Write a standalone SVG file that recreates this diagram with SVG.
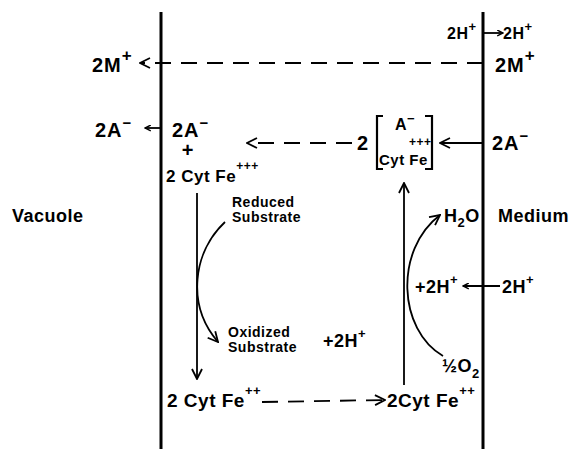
<svg xmlns="http://www.w3.org/2000/svg" width="569" height="449" viewBox="0 0 569 449">
<defs>
<style>
text{font-family:"Liberation Sans",Arial,sans-serif;font-weight:bold;fill:#000;letter-spacing:0.5px}
.big{font-size:20px;letter-spacing:1px}
.mid{font-size:18px}
.sm{font-size:14px}
.sup{font-size:13px}
.ln{stroke:#000;stroke-width:1.8;fill:none}
.dash{stroke-dasharray:16 10}
.mem{stroke:#000;stroke-width:3;fill:none}
</style>
<marker id="ah" viewBox="0 0 12 12" refX="11" refY="6" markerWidth="12" markerHeight="12" markerUnits="userSpaceOnUse" orient="auto">
<path d="M1,1 L11,6 L1,11" fill="none" stroke="#000" stroke-width="1.8"/>
</marker>
<marker id="ahs" viewBox="0 0 12 12" refX="11" refY="6" markerWidth="7" markerHeight="7" markerUnits="userSpaceOnUse" orient="auto">
<path d="M1,1 L11,6 L1,11" fill="none" stroke="#000" stroke-width="2.6"/>
</marker>
</defs>
<rect width="569" height="449" fill="#fff"/>
<g id="membranes">
<line class="mem" x1="161" y1="12" x2="161" y2="449"/>
<line class="mem" x1="483" y1="12" x2="483" y2="449"/>
</g>
<g id="connectors">
<line class="ln" x1="483" y1="33" x2="503" y2="33" marker-end="url(#ahs)"/>
<line class="ln dash" x1="483" y1="63" x2="140" y2="63" marker-end="url(#ah)"/>
<line class="ln" x1="161" y1="128" x2="145" y2="128" marker-end="url(#ahs)"/>
<line class="ln dash" x1="352" y1="143" x2="247" y2="143" marker-end="url(#ah)"/>
<line class="ln" x1="483" y1="143" x2="440" y2="143" marker-end="url(#ah)"/>
<line class="ln" x1="197" y1="193" x2="197" y2="379" marker-end="url(#ah)"/>
<line class="ln" x1="404" y1="385" x2="404" y2="183" marker-end="url(#ah)"/>
<path class="ln" d="M225,222 C193,252 186,305 218,342" marker-end="url(#ah)"/>
<path class="ln" d="M443,356 C398,330 394,250 440,215" marker-end="url(#ah)"/>
<line class="ln dash" x1="262" y1="402" x2="385" y2="400" marker-end="url(#ah)"/>
<line class="ln" x1="500" y1="286" x2="463" y2="286" marker-end="url(#ahs)"/>
</g>
<g id="n-2H-in"><text x="447" y="39" font-size="16">2H<tspan class="sup" dy="-8">+</tspan></text></g>
<g id="n-2H-out"><text x="503" y="39" font-size="16">2H<tspan class="sup" dy="-8">+</tspan></text></g>
<g id="n-2M-vac"><text class="big" x="92" y="72">2M<tspan dy="-11" font-size="17">+</tspan></text></g>
<g id="n-2M-med"><text class="big" x="495" y="72">2M<tspan dy="-11" font-size="17">+</tspan></text></g>
<g id="n-2A-vac"><text class="big" x="95" y="137">2A<tspan font-size="15" dy="-9">−</tspan></text></g>
<g id="n-2A-cyt"><text class="big" x="172" y="137">2A<tspan font-size="15" dy="-9">−</tspan></text>
<text class="big" x="188" y="157" text-anchor="middle">+</text>
<text x="166" y="182" font-size="17">2 Cyt Fe<tspan font-size="12" dy="-12">+++</tspan></text></g>
<g id="n-complex">
<text class="big" x="357" y="150">2</text>
<path d="M383,116 L377,116 L377,169 L383,169 M425,116 L432,116 L432,169 L425,169" fill="none" stroke="#000" stroke-width="2.2"/>
<text x="395" y="130" font-size="16">A<tspan font-size="13" dy="-7">−</tspan></text>
<text x="409" y="146" font-size="12">+++</text>
<text x="379" y="165" font-size="15">Cyt Fe</text>
</g>
<g id="n-2A-med"><text class="big" x="492" y="150">2A<tspan font-size="15" dy="-9">−</tspan></text></g>
<g id="n-vacuole"><text class="mid" x="12" y="222">Vacuole</text></g>
<g id="n-medium"><text class="mid" x="498" y="222">Medium</text></g>
<g id="n-h2o"><text class="mid" x="444" y="222">H<tspan font-size="13" dy="5">2</tspan><tspan dy="-5">O</tspan></text></g>
<g id="n-reduced"><text class="sm" x="232" y="207">Reduced</text><text class="sm" x="232" y="222">Substrate</text></g>
<g id="n-oxidized"><text class="sm" x="228" y="337">Oxidized</text><text class="sm" x="228" y="352">Substrate</text></g>
<g id="n-2H-mid"><text class="mid" x="323" y="347">+2H<tspan class="sup" dy="-9">+</tspan></text></g>
<g id="n-2H-right"><text class="mid" x="415" y="293">+2H<tspan class="sup" dy="-9">+</tspan></text></g>
<g id="n-2H-medium"><text class="mid" x="502" y="293">2H<tspan class="sup" dy="-9">+</tspan></text></g>
<g id="n-o2"><text class="mid" x="442" y="372">½O<tspan font-size="13" dy="6">2</tspan></text></g>
<g id="n-fe2-left"><text x="167" y="407" font-size="19">2 Cyt Fe<tspan class="sup" dy="-12">++</tspan></text></g>
<g id="n-fe2-right"><text x="387" y="407" font-size="19">2Cyt Fe<tspan class="sup" dy="-12">++</tspan></text></g>
</svg>
